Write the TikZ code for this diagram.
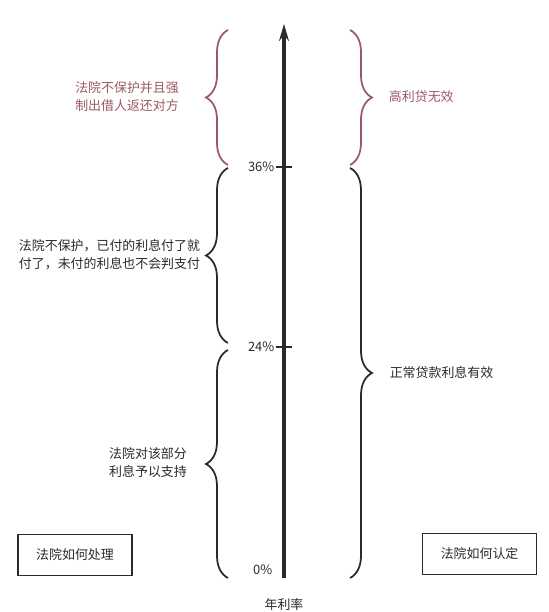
\documentclass[tikz,border=0pt]{standalone}
\usepackage{fontspec}
\setmainfont{Noto Sans CJK SC}
\usetikzlibrary{arrows.meta,decorations.pathreplacing}
\definecolor{hong}{HTML}{9A5A64}
\definecolor{hei}{HTML}{2A2A2A}
\begin{document}
\begin{tikzpicture}[font=\fontsize{9.2}{12.8}\selectfont,
  br/.style={draw=hei, line width=1.25pt, decorate, decoration={brace, amplitude=0.55cm}},
  brr/.style={br, draw=hong},
  txt/.style={text=hei, align=left},
  txtr/.style={text=hong, align=left},
  bx/.style={draw=hei, line width=1.1pt, minimum width=2.85cm, minimum height=1.03cm, text=hei},
  pct/.style={text=hei, anchor=east, inner sep=1pt},
]
  \useasboundingbox (0,0) rectangle (13.7,15.3);
  % eixo em x = 7,10 · 0% em 0,85 · 24% em 6,625 · 36% em 11,125
  \coordinate (o) at (7.1,0.85);
  \coordinate (topo) at (7.1,14.7);
  \coordinate (r24) at (7.1,6.625);
  \coordinate (r36) at (7.1,11.125);
  \draw[hei, line width=2.6pt, -{Stealth[length=12pt,width=7pt]}] (o) -- (topo);
  \draw[hei, line width=1pt] ([xshift=-0.21cm]r24) -- ([xshift=0.21cm]r24);
  \draw[hei, line width=1pt] ([xshift=-0.21cm]r36) -- ([xshift=0.21cm]r36);

  \node[pct] (p36) at ([xshift=-0.2cm]r36) {36\%};
  \node[pct] (p24) at ([xshift=-0.2cm]r24) {24\%};
  \node[pct] (p0) at (6.85,1.05) {0\%};
  \node[text=hei, anchor=south, inner sep=0.5pt] (nianlv) at (7.1,0) {年利率};

  % chaves da esquerda
  \coordinate (la0) at (5.7,0.85);  \coordinate (la1) at (5.7,6.55);
  \coordinate (lb0) at (5.7,6.725); \coordinate (lb1) at (5.7,11.1);
  \coordinate (lc0) at (5.7,11.175);\coordinate (lc1) at (5.7,14.55);
  \draw[br] (la0) -- (la1);
  \draw[br] (lb0) -- (lb1);
  \draw[brr] (lc0) -- (lc1);

  % chaves da direita
  \coordinate (ra0) at (8.75,11.1);  \coordinate (ra1) at (8.75,0.85);
  \coordinate (rb0) at (8.75,14.55); \coordinate (rb1) at (8.75,11.175);
  \draw[br] (ra0) -- (ra1);
  \draw[brr] (rb0) -- (rb1);

  \node[txtr] (bubao) at (3.175,12.875) {法院不保护并且强\\制出借人返还对方};
  \node[txt, anchor=west] (yifu) at (0.35,8.925) {法院不保护，已付的利息付了就\\付了，未付的利息也不会判支付};
  \node[txt] (zhichi) at (3.7,3.725) {法院对该部分\\利息予以支持};
  \node[txtr, anchor=west] (wuxiao) at (9.6,12.875) {高利贷无效};
  \node[txt, anchor=west] (youxiao) at (9.62,5.975) {正常贷款利息有效};

  \node[bx] (chuli) at (1.875,1.425) {法院如何处理};
  \node[bx] (rending) at (11.99,1.45) {法院如何认定};
\end{tikzpicture}
\end{document}
